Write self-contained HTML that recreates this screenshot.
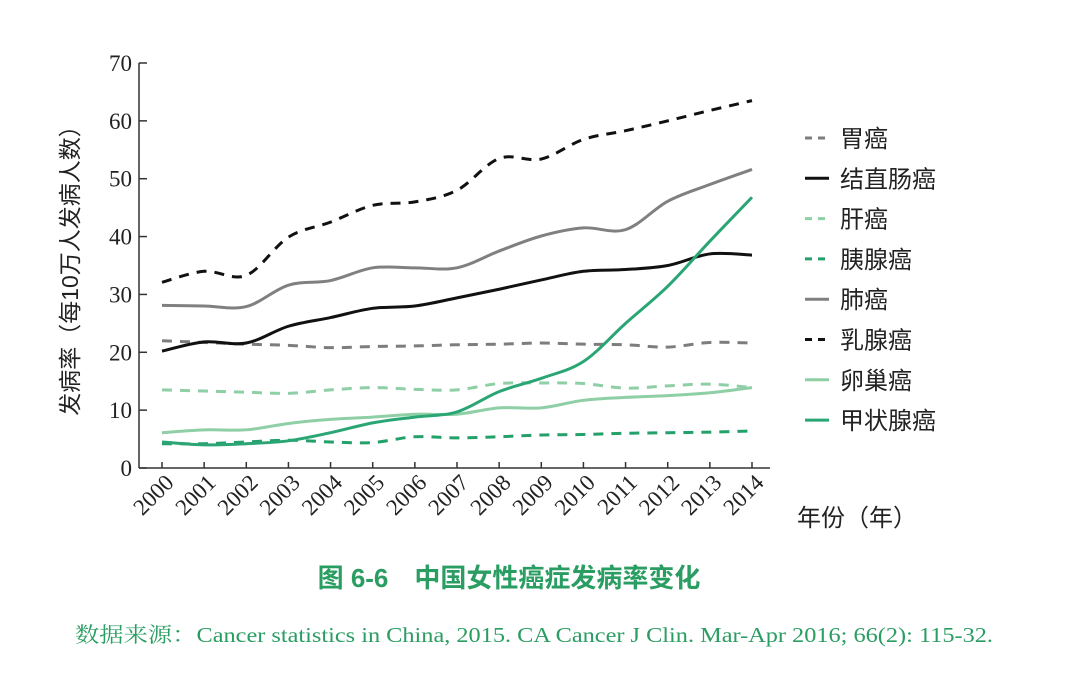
<!DOCTYPE html>
<html><head><meta charset="utf-8"><style>
body{margin:0;background:#fff;}
svg{display:block;}
.cjk{font-family:"Liberation Sans","Noto Sans CJK SC",sans-serif;}
.ser{font-family:"Liberation Serif","Noto Serif CJK SC",serif;}
</style></head><body>
<svg id="c" width="1066" height="684" viewBox="0 0 1066 684">
<g id="axes"></g>
<g id="lines"></g>
<g id="legend"></g>
<text class="cjk" x="0" y="0" transform="translate(78,265) rotate(-90)" text-anchor="middle" font-size="23" fill="#222">发病率（每10万人发病人数）</text>
<text class="cjk" x="797" y="526" font-size="24" fill="#222">年份（年）</text>
<text class="cjk" x="509" y="587" text-anchor="middle" font-size="26" font-weight="bold" fill="#2a9d62">图 6-6　中国女性癌症发病率变化</text>
<text class="ser" x="75" y="642" font-size="21" fill="#2a9d62" textLength="918" lengthAdjust="spacingAndGlyphs">数据来源：Cancer statistics in China, 2015. CA Cancer J Clin. Mar-Apr 2016; 66(2): 115-32.</text>
</svg>
<script>
const years=[2000,2001,2002,2003,2004,2005,2006,2007,2008,2009,2010,2011,2012,2013,2014];
const yTicks=[0,10,20,30,40,50,60,70];
const stomach=[22.0,21.7,21.4,21.2,20.8,21.0,21.1,21.3,21.4,21.6,21.4,21.3,20.9,21.7,21.6];
const colorectal=[20.2,21.8,21.6,24.5,26.0,27.6,28.0,29.4,30.9,32.5,34.0,34.3,35.0,37.0,36.8];
const liver=[13.5,13.3,13.1,12.9,13.5,13.9,13.6,13.5,14.6,14.7,14.6,13.8,14.2,14.5,13.9];
const pancreas=[4.2,4.2,4.5,4.8,4.5,4.4,5.4,5.2,5.4,5.7,5.8,6.0,6.1,6.2,6.4];
const lung=[28.1,28.0,27.9,31.6,32.4,34.6,34.6,34.6,37.5,40.1,41.5,41.2,46.1,49.0,51.6];
const breast=[32.1,34.0,33.3,39.9,42.5,45.4,46.0,48.0,53.5,53.4,56.8,58.3,60.0,61.8,63.5];
const ovary=[6.1,6.6,6.6,7.7,8.4,8.8,9.3,9.3,10.4,10.4,11.7,12.2,12.5,13.0,13.9];
const thyroid=[4.5,4.0,4.2,4.7,6.1,7.8,8.8,9.7,13.2,15.5,18.4,25.0,31.4,39.2,46.8];
const seriesNames=["胃癌","结直肠癌","肝癌","胰腺癌","肺癌","乳腺癌","卵巢癌","甲状腺癌"];
const seriesData=[stomach,colorectal,liver,pancreas,lung,breast,ovary,thyroid];
const seriesKeys=["stomach","colorectal","liver","pancreas","lung","breast","ovary","thyroid"];
const colors=["#7d7d7d","#111111","#8fcfa6","#24a06a","#808080","#111111","#8fcfa6","#2aa574"];
const dashed=[true,false,true,true,false,true,false,false];
const NS="http://www.w3.org/2000/svg";
const X=i=>162+i*(752-162)/(years.length-1);
const Y=v=>468-v*(468-63)/70;
function mk(t,a,p){const e=document.createElementNS(NS,t);for(const k in a)e.setAttribute(k,a[k]);p.appendChild(e);return e;}
const ax=document.getElementById('axes');
let e=mk('line',{x1:139,y1:63,x2:139,y2:468,stroke:'#333','stroke-width':1.5},ax);


e=mk('line',{x1:139,y1:468,x2:770,y2:468,stroke:'#333','stroke-width':1.5},ax);


yTicks.forEach(v=>{
 mk('line',{x1:139,y1:Y(v),x2:147,y2:Y(v),stroke:'#333','stroke-width':1.5},ax);
 const t=mk('text',{x:132,y:Y(v)+8,'text-anchor':'end','font-size':23,fill:'#222',class:'ser'},ax);
 t.textContent=v;
 
 
});
years.forEach((yr,i)=>{
 mk('line',{x1:X(i),y1:462,x2:X(i),y2:468,stroke:'#333','stroke-width':1.5},ax);
 const t=mk('text',{x:0,y:0,'text-anchor':'end','font-size':23,fill:'#222',class:'ser',transform:`translate(${X(i)+13},484) rotate(-45)`},ax);
 t.textContent=yr;
 
 
});
function smooth(pts){let d=`M${pts[0][0]},${pts[0][1]}`;for(let i=0;i<pts.length-1;i++){const p0=pts[Math.max(0,i-1)],p1=pts[i],p2=pts[i+1],p3=pts[Math.min(pts.length-1,i+2)];const c1=[p1[0]+(p2[0]-p0[0])/6,p1[1]+(p2[1]-p0[1])/6],c2=[p2[0]-(p3[0]-p1[0])/6,p2[1]-(p3[1]-p1[1])/6];d+=` C${c1[0]},${c1[1]} ${c2[0]},${c2[1]} ${p2[0]},${p2[1]}`;}return d;}
const lg=document.getElementById('lines');
seriesData.forEach((s,k)=>{
 const p=mk('path',{d:smooth(s.map((v,i)=>[X(i),Y(v)])),fill:'none',stroke:colors[k],'stroke-width':3,'stroke-dasharray':dashed[k]?'10,8':'none'},lg);
 
 
});
const leg=document.getElementById('legend');
seriesNames.forEach((n,k)=>{
 const y=138+k*40.3;
 const l=mk('line',{x1:805,y1:y,x2:829,y2:y,stroke:colors[k],'stroke-width':3,'stroke-dasharray':dashed[k]?'7,6':'none'},leg);
 
 
 const t=mk('text',{x:840,y:y+9,'font-size':24,fill:'#222',class:'cjk'},leg);
 t.textContent=n;
 
 
});
</script>
</body></html>
